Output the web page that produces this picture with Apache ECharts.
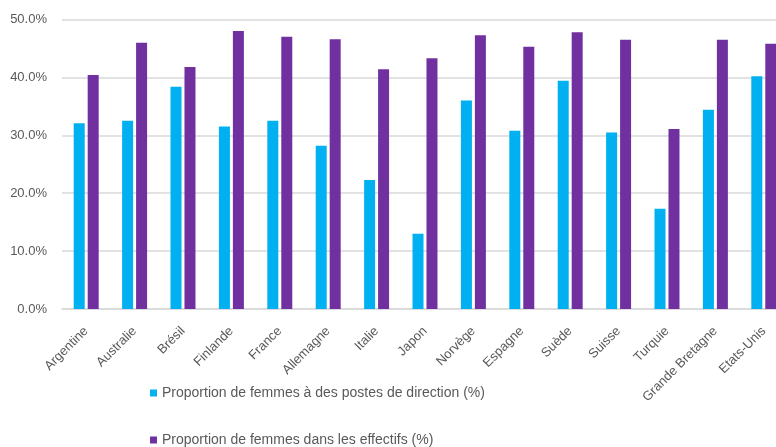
<!DOCTYPE html>
<html><head><meta charset="utf-8">
<script src="https://cdn.jsdelivr.net/npm/echarts@6/dist/echarts.min.js"></script>
<style>html,body{margin:0;padding:0;background:#fff}#c{width:776px;height:447px}</style>
</head><body><div id="c"></div>
<script>
const categories = ['Argentine','Australie','Brésil','Finlande','France','Allemagne','Italie','Japon','Norvège','Espagne','Suède','Suisse','Turquie','Grande Bretagne','Etats-Unis'];
const direction = [32.1,32.5,38.4,31.5,32.5,28.2,22.3,13.0,36.0,30.8,39.4,30.5,17.3,34.4,40.2];
const effectifs = [40.4,46.0,41.8,48.0,47.0,46.6,41.4,43.3,47.3,45.3,47.8,46.5,31.1,46.5,45.8];
const yTicks = [0,10,20,30,40,50];
const seriesNames = ['Proportion de femmes à des postes de direction (%)','Proportion de femmes dans les effectifs (%)'];

const FONT = 'Liberation Sans';
const legendText = {fontFamily:FONT, fontSize:14, color:'#595959', lineHeight:14};
const chart = echarts.init(document.getElementById('c'));
chart.setOption({
  animation:false,
  textStyle:{fontFamily:FONT},
  grid:{left:62, top:19.5, width:726, height:289.5, containLabel:false, outerBoundsMode:'none'},
  legend:[
    {orient:'vertical', left:150, top:386, padding:0, itemWidth:7, itemHeight:7, icon:'rect',
     textStyle:legendText, data:[seriesNames[0]]},
    {orient:'vertical', left:150, top:433, padding:0, itemWidth:7, itemHeight:7, icon:'rect',
     textStyle:legendText, data:[seriesNames[1]]}
  ],
  xAxis:{
    type:'category', data:categories,
    axisLine:{lineStyle:{color:'#d9d9d9', width:1.5}},
    axisTick:{show:false},
    axisLabel:{interval:0, rotate:45, margin:20, fontFamily:FONT, fontSize:13, color:'#595959'}
  },
  yAxis:{
    type:'value', min:yTicks[0], max:yTicks[yTicks.length-1], interval:10,
    axisLine:{show:false}, axisTick:{show:false},
    splitLine:{lineStyle:{color:'#d9d9d9', width:1.5}},
    axisLabel:{margin:15, fontFamily:FONT, fontSize:13, color:'#595959', formatter:v=>v.toFixed(1)+'%'}
  },
  series:[
    {name:seriesNames[0], type:'bar', data:direction, barWidth:11, barGap:'27%', itemStyle:{color:'#00B0F0'}},
    {name:seriesNames[1], type:'bar', data:effectifs, barWidth:11, itemStyle:{color:'#7030A0'}}
  ]
});
</script></body></html>
